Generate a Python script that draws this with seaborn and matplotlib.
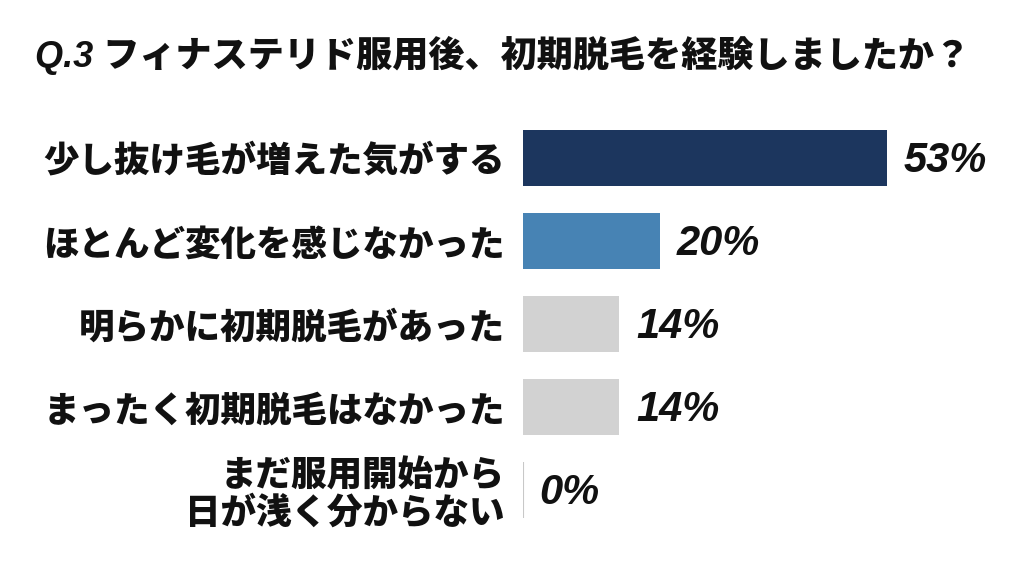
import matplotlib
matplotlib.use("Agg")
import matplotlib.pyplot as plt
import seaborn as sns
import pandas as pd

categories = [
    "少し抜け毛が増えた気がする",
    "ほとんど変化を感じなかった",
    "明らかに初期脱毛があった",
    "まったく初期脱毛はなかった",
    "まだ服用開始から\n日が浅く分からない",
]
values = [53, 20, 14, 14, 0]
labels = ["53%", "20%", "14%", "14%", "0%"]
colors = ["#1c365e", "#4783b4", "#d2d2d2", "#d2d2d2", "#d2d2d2"]
title = "Q.3 フィナステリド服用後、初期脱毛を経験しましたか？"

sns.set_theme(style="white")
plt.rcParams["font.family"] = ["Noto Sans CJK JP", "DejaVu Sans"]

df = pd.DataFrame({"cat": categories, "val": values})

fig = plt.figure(figsize=(10.24, 5.72), dpi=100)
ax = fig.add_axes([0.5107, 0.0708, 0.47, 0.7255])

sns.barplot(data=df, x="val", y="cat", hue="cat", palette=colors, legend=False,
            width=0.68, saturation=1, ax=ax, orient="h")

for p, v in zip(ax.patches, values):
    if v == 0:
        p.set_edgecolor("#c8c8c8")
        p.set_linewidth(1.5)
    else:
        p.set_linewidth(0)

ax.set_xlim(0, 70)
ax.set_ylim(4.5, -0.5)
ax.set_xlabel("")
ax.set_ylabel("")
ax.set_xticks([])
for s in ax.spines.values():
    s.set_visible(False)
ax.tick_params(axis="y", length=0, pad=13)
ax.set_yticks(range(len(categories)))
ax.set_yticklabels(categories, fontsize=25.6, fontweight="heavy", color="#111111",
                   linespacing=1.05)
for t in ax.get_yticklabels():
    t.set_horizontalalignment("right")

for i, (v, lab) in enumerate(zip(values, labels)):
    ax.annotate(lab, xy=(v, i), xytext=(12, -2), textcoords="offset points",
                ha="left", va="center", fontsize=30, fontweight="bold",
                fontstyle="italic", family=["Liberation Sans", "DejaVu Sans"],
                color="#111111")

fig.text(0.034, 0.903, title, ha="left", va="center", fontsize=26,
         fontweight="heavy", fontstyle="italic",
         family=["Liberation Sans", "Noto Sans CJK JP", "DejaVu Sans"],
         color="#111111")

fig.savefig("out.png", dpi=100, facecolor="white")
